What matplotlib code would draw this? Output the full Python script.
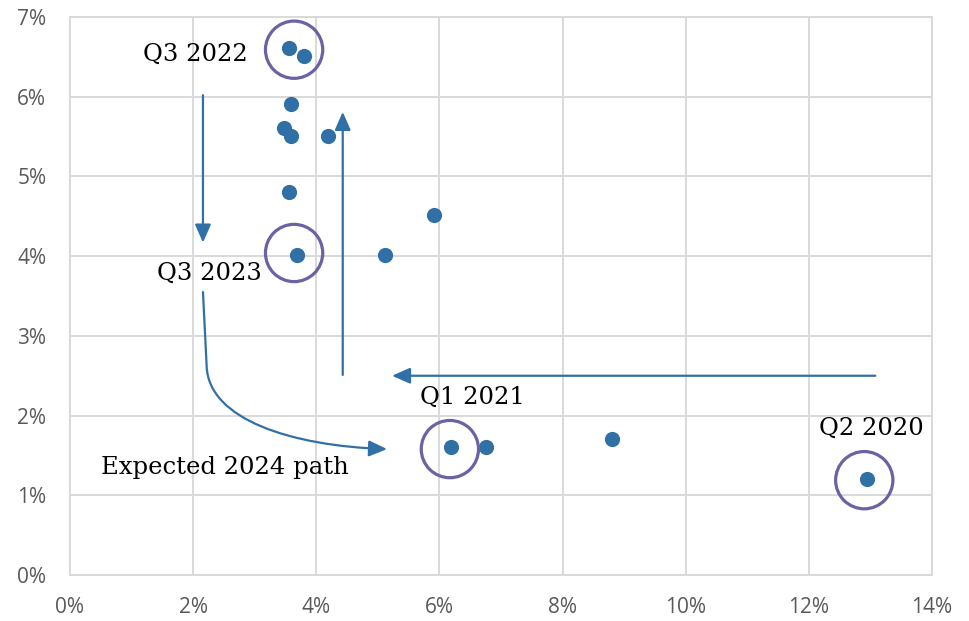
import matplotlib
matplotlib.use("Agg")
import matplotlib.pyplot as plt
from matplotlib.path import Path
from matplotlib.patches import FancyArrowPatch
from matplotlib.ticker import FuncFormatter

# data points (x %, y %)
x_vals = [3.56, 3.80, 3.59, 3.47, 3.59, 4.19, 3.56, 3.69, 5.11, 5.91, 6.19, 6.75, 8.81, 12.94]
y_vals = [6.61, 6.51, 5.91, 5.61, 5.51, 5.51, 4.81, 4.01, 4.01, 4.52, 1.61, 1.61, 1.71, 1.20]

# highlighted quarters
hl_labels = ["Q3 2022", "Q3 2023", "Q1 2021", "Q2 2020"]
hl_x = [3.64, 3.64, 6.17, 12.90]
hl_y = [6.59, 4.04, 1.58, 1.19]
lbl_x = [2.03, 2.27, 6.54, 13.02]
lbl_y = [6.53, 3.79, 2.23, 1.84]

blue = "#3170a6"
purple = "#6b62a3"
grid_c = "#d9d9d9"

fig = plt.figure(figsize=(9.69, 6.21), dpi=100)
ax = fig.add_axes([0.0722, 0.074, 0.8896, 0.8986])

ax.scatter(x_vals, y_vals, s=120, color=blue, zorder=3, linewidths=0)
ax.scatter(hl_x, hl_y, s=1700, facecolors="none", edgecolors=purple, linewidths=2.3, zorder=4)

for t, lx, ly in zip(hl_labels, lbl_x, lbl_y):
    ax.text(lx, ly, t, ha="center", va="center", fontsize=17.5, family="DejaVu Serif", color="black")
ax.text(2.52, 1.35, "Expected 2024 path", ha="center", va="center", fontsize=17.5,
        family="DejaVu Serif", color="black")

# straight arrows
head = "-|>,head_length=0.5,head_width=0.22"
arr = dict(arrowstyle=head, color=blue, lw=1.6, mutation_scale=22, shrinkA=0, shrinkB=0)
ax.annotate("", xy=(2.16, 4.17), xytext=(2.16, 6.02), arrowprops=arr)
ax.annotate("", xy=(4.43, 5.81), xytext=(4.43, 2.51), arrowprops=arr)
ax.annotate("", xy=(5.23, 2.50), xytext=(13.08, 2.50), arrowprops=arr)

# curved expected path
verts = [(2.16, 3.55), (2.22, 2.62), (2.25, 1.95), (3.6, 1.62), (5.15, 1.58)]
codes = [Path.MOVETO, Path.LINETO, Path.CURVE4, Path.CURVE4, Path.CURVE4]
curve = FancyArrowPatch(path=Path(verts, codes), arrowstyle=head,
                        color=blue, lw=1.6, mutation_scale=22, shrinkA=0, shrinkB=0)
ax.add_patch(curve)

ax.set_xlim(0, 14)
ax.set_ylim(0, 7)
ax.set_xticks(range(0, 15, 2))
ax.set_yticks(range(0, 8))
fmt = FuncFormatter(lambda v, p: f"{v:.0f}%")
ax.xaxis.set_major_formatter(fmt)
ax.yaxis.set_major_formatter(fmt)
ax.grid(True, color=grid_c, lw=1.4)
ax.set_axisbelow(True)
for s in ax.spines.values():
    s.set_color(grid_c)
    s.set_linewidth(1.4)
ax.tick_params(length=0, labelsize=15, colors="#595959")
ax.tick_params(axis="x", pad=16)
ax.tick_params(axis="y", pad=17)
for lab in ax.get_xticklabels() + ax.get_yticklabels():
    lab.set_family("Open Sans")

fig.savefig("out.png", dpi=100)
